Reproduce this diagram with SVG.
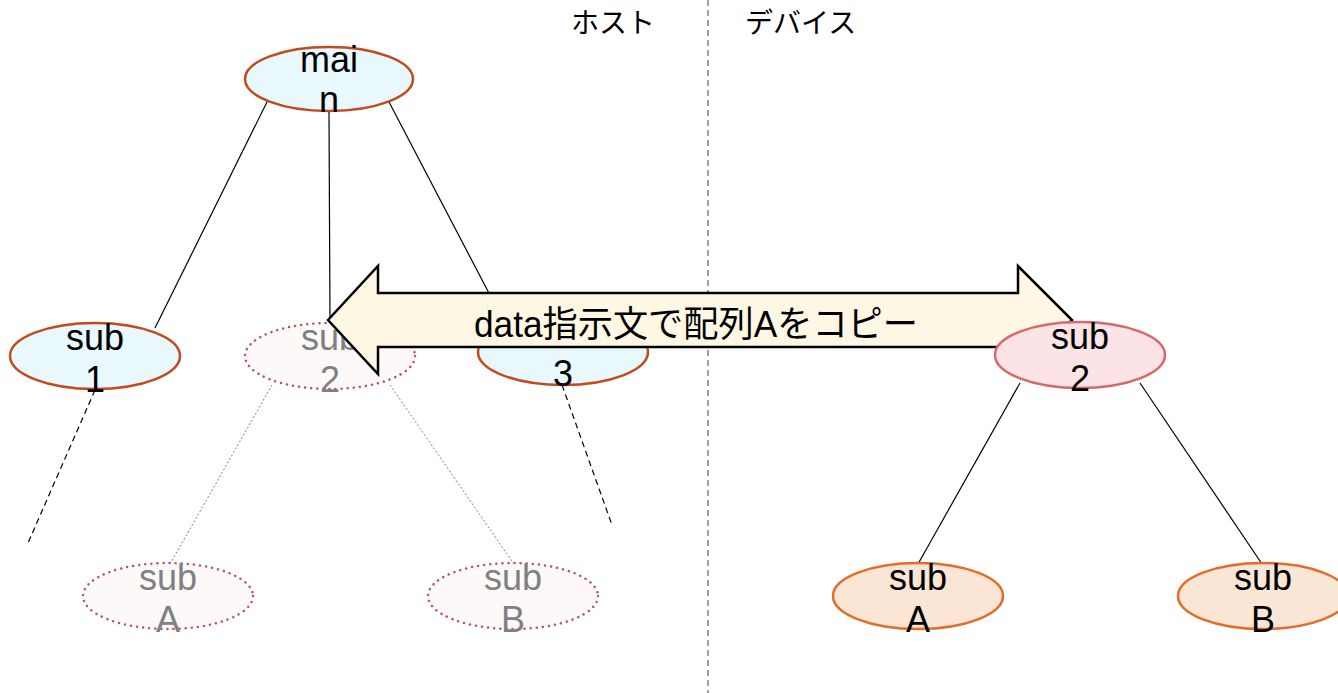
<svg xmlns="http://www.w3.org/2000/svg" width="1338" height="693" viewBox="0 0 1338 693">
<style>
.lbl{font-family:"Liberation Sans",Arial,sans-serif;font-size:36px;text-anchor:middle;fill:#000}
.glbl{font-family:"Liberation Sans",Arial,sans-serif;font-size:36px;text-anchor:middle;fill:#808080}
.jp{font-family:"Liberation Sans","Noto Sans CJK JP",sans-serif;font-size:28px;fill:#000}
.host{fill:#e8f8fc;stroke:#c24a1e;stroke-width:2.5}
.ghost{fill:#fdf9f9;stroke:#c0506a;stroke-width:2.5;stroke-dasharray:0.1 6;stroke-linecap:round}
.devp{fill:#fce4e6;stroke:#d46a6a;stroke-width:2.5}
.devo{fill:#fbe6d6;stroke:#e36c2a;stroke-width:2.5}
.solid{stroke:#000;stroke-width:1.2;fill:none}
.dash{stroke:#000;stroke-width:1.2;stroke-dasharray:6 4;fill:none}
.dot{stroke:#808080;stroke-width:1;stroke-dasharray:2 2;fill:none}
</style>
<rect width="1338" height="693" fill="#fff"/>
<line x1="708" y1="0" x2="708" y2="693" stroke="#808080" stroke-width="1.5" stroke-dasharray="6 4"/>
<text class="jp" x="571" y="33">ホスト</text>
<text class="jp" x="745" y="33">デバイス</text>
<g id="connectors">
<line class="solid" x1="268" y1="100" x2="155" y2="328"/>
<line class="solid" x1="329" y1="112" x2="330" y2="323"/>
<line class="solid" x1="388" y1="100" x2="503" y2="320"/>
<line class="dash" x1="95" y1="390" x2="28" y2="543"/>
<line class="dash" x1="562" y1="385" x2="612" y2="525"/>
<line class="dot" x1="272" y1="385" x2="170" y2="564"/>
<line class="dot" x1="390" y1="385" x2="514" y2="564"/>
<line class="solid" x1="1020" y1="383" x2="918" y2="564"/>
<line class="solid" x1="1140" y1="383" x2="1262" y2="564"/>
</g>
<g id="main"><ellipse class="host" cx="329" cy="79" rx="84" ry="32"/><text class="lbl" x="329" y="72">mai</text><text class="lbl" x="329" y="112">n</text></g>
<g id="sub1"><ellipse class="host" cx="95" cy="356" rx="85" ry="33"/><text class="lbl" x="95" y="350">sub</text><text class="lbl" x="95" y="392">1</text></g>
<g id="host-sub2"><ellipse class="ghost" cx="330" cy="356" rx="85" ry="33"/><text class="glbl" x="330" y="350">sub</text><text class="glbl" x="330" y="392">2</text></g>
<g id="sub3"><ellipse class="host" cx="563" cy="352" rx="85" ry="33"/><text class="lbl" x="563" y="386">3</text></g>
<g id="host-subA"><ellipse class="ghost" cx="168" cy="596" rx="85" ry="33"/><text class="glbl" x="168" y="590">sub</text><text class="glbl" x="168" y="632">A</text></g>
<g id="host-subB"><ellipse class="ghost" cx="513" cy="596" rx="85" ry="33"/><text class="glbl" x="513" y="590">sub</text><text class="glbl" x="513" y="632">B</text></g>
<g id="copy-arrow">
<path d="M328,320 L378,266 L378,293 L1018,293 L1018,266 L1072,320 L1018,374 L1018,347 L378,347 L378,374 Z" fill="#fdf7e4" stroke="#000" stroke-width="2.5" stroke-linejoin="miter"/>
<text x="474" y="337" font-family="'Liberation Sans','Noto Sans CJK JP',sans-serif" font-size="36" textLength="444" lengthAdjust="spacingAndGlyphs" fill="#000">data指示文で配列Aをコピー</text>
</g>
<g id="dev-sub2"><ellipse class="devp" cx="1080" cy="355" rx="85" ry="33"/><text class="lbl" x="1080" y="349">sub</text><text class="lbl" x="1080" y="391">2</text></g>
<g id="dev-subA"><ellipse class="devo" cx="918" cy="596" rx="85" ry="33"/><text class="lbl" x="918" y="590">sub</text><text class="lbl" x="918" y="632">A</text></g>
<g id="dev-subB"><ellipse class="devo" cx="1263" cy="596" rx="85" ry="33"/><text class="lbl" x="1263" y="590">sub</text><text class="lbl" x="1263" y="632">B</text></g>
</svg>
